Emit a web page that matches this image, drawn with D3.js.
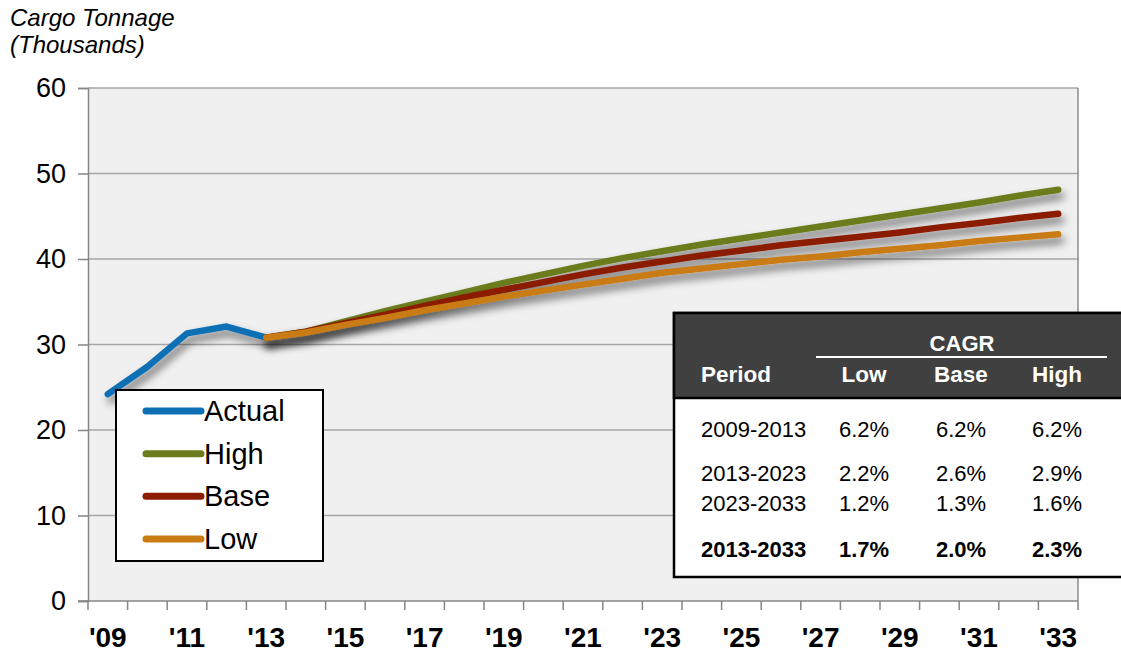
<!DOCTYPE html>
<html>
<head>
<meta charset="utf-8">
<script src="https://cdn.jsdelivr.net/npm/d3@7"></script>
<style>
  html, body { margin: 0; padding: 0; background: #ffffff; }
  svg { display: block; font-family: "Liberation Sans", Arial, sans-serif; }
</style>
</head>
<body>
<svg id="chart" width="1121" height="657"></svg>
<script>
// ---- Data -------------------------------------------------------------
const years = d3.range(2009, 2034);
const tickYears = [2009, 2011, 2013, 2015, 2017, 2019, 2021, 2023, 2025, 2027, 2029, 2031, 2033];
const yTicks = [0, 10, 20, 30, 40, 50, 60];

const actualYears = [2009, 2010, 2011, 2012, 2013];
const actual = [24.2, 27.4, 31.3, 32.1, 30.8];

const forecastYears = d3.range(2013, 2034);
const high = [30.8, 31.5, 32.7, 33.9, 35.0, 36.1, 37.2, 38.2, 39.2, 40.1, 40.9,
              41.7, 42.4, 43.1, 43.8, 44.5, 45.2, 45.9, 46.6, 47.4, 48.1];
const base = [30.8, 31.5, 32.5, 33.5, 34.5, 35.5, 36.4, 37.3, 38.2, 39.0, 39.7,
              40.4, 41.0, 41.6, 42.1, 42.6, 43.1, 43.7, 44.2, 44.8, 45.3];
const low  = [30.8, 31.4, 32.3, 33.1, 34.0, 34.8, 35.6, 36.3, 37.0, 37.7, 38.4,
              38.9, 39.4, 39.9, 40.3, 40.8, 41.2, 41.6, 42.1, 42.5, 42.9];

const legendNames = ["Actual", "High", "Base", "Low"];
const colors = { Actual: "#0f6fb5", High: "#6b7c1c", Base: "#8c1c02", Low: "#c97c14" };

const tableHeader = ["Period", "Low", "Base", "High"];
const tablePeriods = ["2009-2013", "2013-2023", "2023-2033", "2013-2033"];
const cagrLow  = ["6.2%", "2.2%", "1.2%", "1.7%"];
const cagrBase = ["6.2%", "2.6%", "1.3%", "2.0%"];
const cagrHigh = ["6.2%", "2.9%", "1.6%", "2.3%"];

// ---- Layout -----------------------------------------------------------
const svg = d3.select("#chart");
const plot = { left: 88, right: 1078, top: 88, bottom: 601 };

const x = d3.scaleBand().domain(years).range([plot.left, plot.right]).paddingInner(0).paddingOuter(0);
const xc = yr => x(yr) + x.bandwidth() / 2;
const y = d3.scaleLinear().domain([0, 60]).range([plot.bottom, plot.top]);

const defs = svg.append("defs");
const shadow = defs.append("filter").attr("id", "lineShadow")
  .attr("x", "-10%").attr("y", "-30%").attr("width", "130%").attr("height", "180%");
shadow.append("feDropShadow").attr("dx", 3).attr("dy", 6).attr("stdDeviation", 4)
  .attr("flood-color", "#000").attr("flood-opacity", 0.55);

// Plot background
svg.append("rect")
  .attr("x", plot.left).attr("y", plot.top)
  .attr("width", plot.right - plot.left).attr("height", plot.bottom - plot.top)
  .attr("fill", "#f0f0f0");

// Horizontal gridlines
svg.append("g").selectAll("line").data(yTicks.filter(d => d > 0)).join("line")
  .attr("x1", plot.left).attr("x2", plot.right)
  .attr("y1", d => y(d)).attr("y2", d => y(d))
  .attr("stroke", "#a6a6a6").attr("stroke-width", 1.5);

// Right border of plot area
svg.append("line")
  .attr("x1", plot.right).attr("x2", plot.right)
  .attr("y1", plot.top).attr("y2", plot.bottom)
  .attr("stroke", "#8c8c8c").attr("stroke-width", 1.5);

// Y axis
const yAxis = d3.axisLeft(y).tickValues(yTicks).tickSize(10).tickPadding(12).tickFormat(d3.format("d"));
const gy = svg.append("g").attr("transform", `translate(${plot.left},0)`).call(yAxis);
gy.select(".domain").attr("stroke", "#868686").attr("stroke-width", 1.5);
gy.selectAll(".tick line").attr("stroke", "#868686").attr("stroke-width", 1.5);
gy.selectAll(".tick text").attr("font-size", 27).attr("fill", "#000")
  .attr("font-family", "Liberation Sans, Arial, sans-serif");

// X axis: band boundaries as ticks, labels every other year
const gx = svg.append("g").attr("transform", `translate(0,${plot.bottom})`);
gx.append("line").attr("x1", plot.left - 10).attr("x2", plot.right)
  .attr("stroke", "#868686").attr("stroke-width", 1.5);
const boundaries = years.map(d => x(d)).concat([plot.right]);
gx.selectAll("line.tk").data(boundaries).join("line").attr("class", "tk")
  .attr("x1", d => d).attr("x2", d => d).attr("y1", 0).attr("y2", 9)
  .attr("stroke", "#868686").attr("stroke-width", 1.5);
gx.selectAll("text").data(tickYears).join("text")
  .attr("x", d => xc(d)).attr("y", 46)
  .attr("text-anchor", "middle").attr("font-weight", "bold").attr("font-size", 28)
  .text(d => "'" + String(d).slice(2));

// Series lines
const line = d3.line().x(d => xc(d[0])).y(d => y(d[1]));
const series = [
  { name: "Actual", pts: d3.zip(actualYears, actual) },
  { name: "High", pts: d3.zip(forecastYears, high) },
  { name: "Base", pts: d3.zip(forecastYears, base) },
  { name: "Low", pts: d3.zip(forecastYears, low) }
];
svg.append("g").selectAll("path").data(series).join("path")
  .attr("d", d => line(d.pts))
  .attr("fill", "none")
  .attr("stroke", d => colors[d.name])
  .attr("stroke-width", 6.5)
  .attr("stroke-linecap", "round")
  .attr("stroke-linejoin", "round")
  .attr("filter", "url(#lineShadow)");

// Title
svg.append("text").attr("x", 10).attr("y", 26).attr("font-size", 24).attr("font-style", "italic")
  .text("Cargo Tonnage");
svg.append("text").attr("x", 10).attr("y", 53).attr("font-size", 24).attr("font-style", "italic")
  .text("(Thousands)");

// Legend
const lg = svg.append("g");
lg.append("rect").attr("x", 116).attr("y", 390).attr("width", 207).attr("height", 171)
  .attr("fill", "#ffffff").attr("stroke", "#000").attr("stroke-width", 2);
const lgY = d3.scalePoint().domain(legendNames).range([411, 539]);
lg.selectAll("line").data(legendNames).join("line")
  .attr("x1", 146).attr("x2", 201).attr("y1", d => lgY(d)).attr("y2", d => lgY(d))
  .attr("stroke", d => colors[d]).attr("stroke-width", 7).attr("stroke-linecap", "round");
lg.selectAll("text").data(legendNames).join("text")
  .attr("x", 204).attr("y", d => lgY(d) + 10)
  .attr("font-size", 29).text(d => d);

// CAGR table
const tb = svg.append("g");
const tX = 674, tY = 313, tW = 470, tH = 264, hH = 85;
tb.append("rect").attr("x", tX).attr("y", tY).attr("width", tW).attr("height", tH)
  .attr("fill", "#ffffff").attr("stroke", "#000").attr("stroke-width", 2.5);
tb.append("rect").attr("x", tX).attr("y", tY).attr("width", tW).attr("height", hH)
  .attr("fill", "#404040").attr("stroke", "#000").attr("stroke-width", 2.5);

const colX = [701, 864, 961, 1057];
tb.append("text").attr("x", 962).attr("y", 351).attr("text-anchor", "middle")
  .attr("font-weight", "bold").attr("font-size", 22).attr("fill", "#fff").text("CAGR");
tb.append("line").attr("x1", 816).attr("x2", 1107).attr("y1", 357).attr("y2", 357)
  .attr("stroke", "#fff").attr("stroke-width", 2);
tb.selectAll("text.hd").data(tableHeader).join("text").attr("class", "hd")
  .attr("x", (d, i) => colX[i]).attr("y", 382)
  .attr("text-anchor", (d, i) => i === 0 ? "start" : "middle")
  .attr("font-weight", "bold").attr("font-size", 22.5).attr("fill", "#fff").text(d => d);

const rowY = [437, 481, 511, 557];
const rows = tablePeriods.map((p, i) => [p, cagrLow[i], cagrBase[i], cagrHigh[i]]);
rows.forEach((r, i) => {
  tb.selectAll(null).data(r).join("text")
    .attr("x", (d, j) => colX[j]).attr("y", rowY[i])
    .attr("text-anchor", (d, j) => j === 0 ? "start" : "middle")
    .attr("font-size", 22)
    .attr("font-weight", i === 3 ? "bold" : "normal")
    .attr("fill", "#000").text(d => d);
});
</script>
</body>
</html>
